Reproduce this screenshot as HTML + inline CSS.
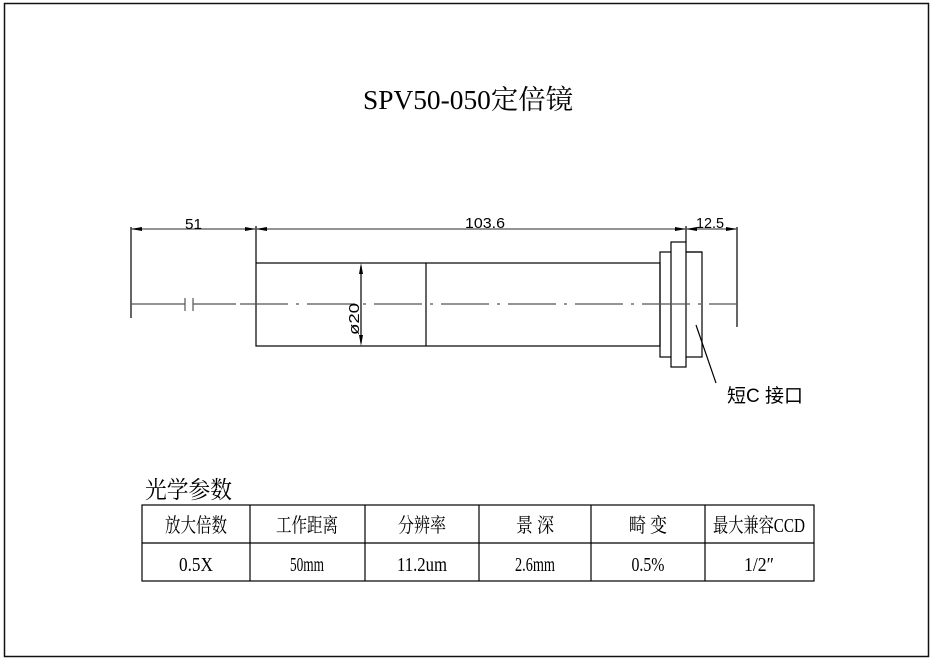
<!DOCTYPE html>
<html><head><meta charset="utf-8"><style>
html,body{margin:0;padding:0;background:#fff;}
svg{display:block;}
text{fill:#000;}
</style></head><body>
<svg width="933" height="661" viewBox="0 0 933 661" xmlns="http://www.w3.org/2000/svg">
<rect x="4.5" y="3.5" width="924" height="653" fill="none" stroke="#111" stroke-width="1.5"/>
<text x="363" y="109" font-family="'Liberation Serif','Noto Serif CJK SC',serif" font-size="27" textLength="210" lengthAdjust="spacingAndGlyphs">SPV50-050定倍镜</text>
<g stroke="#000" stroke-width="1.2" fill="none">
<line x1="131" y1="227" x2="131" y2="318"/>
<line x1="256" y1="226" x2="256" y2="263"/>
<line x1="686" y1="226" x2="686" y2="242"/>
<line x1="737" y1="227" x2="737" y2="327"/>
<rect x="256" y="263" width="404" height="83"/>
<line x1="426" y1="263" x2="426" y2="346"/>
<rect x="660" y="252" width="42" height="105"/>
<rect x="671" y="242" width="15" height="125" fill="#fff"/>
<line x1="686" y1="252" x2="702" y2="252"/>
<line x1="696" y1="325" x2="716" y2="383"/>
<line x1="361" y1="266" x2="361" y2="343"/>
</g>
<g stroke="#555" stroke-width="1.2">
<line x1="131" y1="229" x2="256" y2="229"/>
<line x1="256" y1="229" x2="686" y2="229"/>
<line x1="686" y1="229" x2="737" y2="229"/>
</g>
<g fill="#000">
<polygon points="131,229 142,227 142,231"/>
<polygon points="256,229 245,227 245,231"/>
<polygon points="256,229 267,227 267,231"/>
<polygon points="686,229 675,227 675,231"/>
<polygon points="686,229 697,227 697,231"/>
<polygon points="737,229 726,227 726,231"/>
<polygon points="361,263 359,274 363,274"/>
<polygon points="361,346 359,335 363,335"/>
</g>
<g stroke="#555" stroke-width="1.2">
<line x1="131" y1="304" x2="185" y2="304"/>
<line x1="193" y1="304" x2="236" y2="304"/>
<line x1="185" y1="298" x2="185" y2="311"/>
<line x1="193" y1="298" x2="193" y2="311"/>
<line x1="240" y1="304" x2="737" y2="304" stroke-dasharray="48,8,3,8"/>
</g>
<g font-family="'Liberation Sans',sans-serif" font-size="15">
<text x="185" y="229" textLength="17" lengthAdjust="spacingAndGlyphs">51</text>
<text x="465" y="228" textLength="40" lengthAdjust="spacingAndGlyphs">103.6</text>
<text x="696" y="228" textLength="28" lengthAdjust="spacingAndGlyphs">12.5</text>
<text transform="translate(359,335) rotate(-90)" textLength="32" lengthAdjust="spacingAndGlyphs">ø20</text>
</g>
<text x="727" y="402" font-family="'Liberation Sans','Noto Sans CJK SC',sans-serif" font-size="19">短C 接口</text>
<text x="145" y="498" font-family="'Liberation Serif','Noto Serif CJK SC',serif" font-size="24" textLength="87" lengthAdjust="spacingAndGlyphs">光学参数</text>
<g stroke="#000" stroke-width="1.2" fill="none">
<rect x="142" y="505" width="672" height="76"/>
<line x1="142" y1="543" x2="814" y2="543"/>
<line x1="250" y1="505" x2="250" y2="581"/>
<line x1="365" y1="505" x2="365" y2="581"/>
<line x1="479" y1="505" x2="479" y2="581"/>
<line x1="591" y1="505" x2="591" y2="581"/>
<line x1="705" y1="505" x2="705" y2="581"/>
</g>
<g font-family="'Liberation Serif','Noto Serif CJK SC',serif" font-size="20" text-anchor="middle">
<text x="196" y="532" textLength="62" lengthAdjust="spacingAndGlyphs">放大倍数</text>
<text x="307" y="532" textLength="62" lengthAdjust="spacingAndGlyphs">工作距离</text>
<text x="422" y="532" textLength="48" lengthAdjust="spacingAndGlyphs">分辨率</text>
<text x="535" y="532" textLength="38" lengthAdjust="spacingAndGlyphs">景 深</text>
<text x="648" y="532" textLength="38" lengthAdjust="spacingAndGlyphs">畸 变</text>
<text x="759" y="532" textLength="92" lengthAdjust="spacingAndGlyphs">最大兼容CCD</text>
<text x="196" y="571" textLength="34" lengthAdjust="spacingAndGlyphs">0.5X</text>
<text x="307" y="571" textLength="34" lengthAdjust="spacingAndGlyphs">50mm</text>
<text x="422" y="571" textLength="50" lengthAdjust="spacingAndGlyphs">11.2um</text>
<text x="535" y="571" textLength="40" lengthAdjust="spacingAndGlyphs">2.6mm</text>
<text x="648" y="571" textLength="33" lengthAdjust="spacingAndGlyphs">0.5%</text>
<text x="759" y="571" textLength="30" lengthAdjust="spacingAndGlyphs">1/2″</text>
</g>
</svg>
</body></html>
